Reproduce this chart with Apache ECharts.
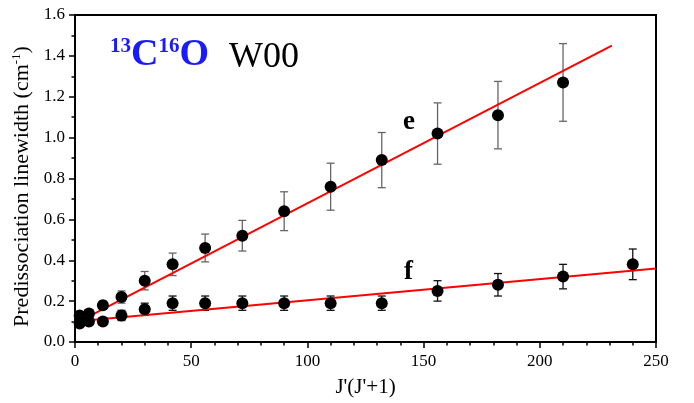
<!DOCTYPE html>
<html>
<head>
<meta charset="utf-8">
<script src="https://cdn.jsdelivr.net/npm/echarts@6/dist/echarts.min.js"></script>
<style>html,body{margin:0;padding:0;background:#fff}#c{width:694px;height:403px}</style>
</head>
<body>
<div id="c"></div>
<script>
var xJ = [2, 6, 12, 20, 30, 42, 56, 72, 90, 110, 132, 156, 182, 210];
var eVal = [0.13, 0.14, 0.18, 0.22, 0.30, 0.38, 0.46, 0.52, 0.64, 0.76, 0.89, 1.02, 1.11, 1.27];
var eErr = [0.01, 0.015, 0.02, 0.03, 0.045, 0.055, 0.068, 0.075, 0.095, 0.115, 0.135, 0.15, 0.165, 0.19];
var xJf = [2, 6, 12, 20, 30, 42, 56, 72, 90, 110, 132, 156, 182, 210, 240];
var fVal = [0.09, 0.10, 0.10, 0.13, 0.16, 0.19, 0.19, 0.19, 0.19, 0.19, 0.19, 0.25, 0.28, 0.32, 0.38];
var fErr = [0.01, 0.012, 0.015, 0.025, 0.03, 0.035, 0.035, 0.035, 0.035, 0.035, 0.035, 0.05, 0.055, 0.06, 0.075];
var fitE = [[0, 0.09], [231, 1.45]];
var fitF = [[0, 0.10], [250, 0.36]];

var FONT = '"Liberation Serif", "Times New Roman", serif';

function pts(xs, ys) { return xs.map(function (x, i) { return [x, ys[i]]; }); }
function errData(xs, ys, es) { return xs.map(function (x, i) { return [x, ys[i] - es[i], ys[i] + es[i]]; }); }

function errRender(color) {
  return function (params, api) {
    var x = api.value(0);
    var lo = api.coord([x, api.value(1)]);
    var hi = api.coord([x, api.value(2)]);
    var w = 4;
    var st = { stroke: color, lineWidth: 1.3, fill: null };
    return {
      type: 'group',
      children: [
        { type: 'line', shape: { x1: lo[0], y1: lo[1], x2: hi[0], y2: hi[1] }, style: st },
        { type: 'line', shape: { x1: lo[0] - w, y1: lo[1], x2: lo[0] + w, y2: lo[1] }, style: st },
        { type: 'line', shape: { x1: hi[0] - w, y1: hi[1], x2: hi[0] + w, y2: hi[1] }, style: st }
      ]
    };
  };
}

var chart = echarts.init(document.getElementById('c'), null, { renderer: 'canvas' });
chart.setOption({
  animation: false,
  backgroundColor: '#fff',
  grid: { left: 75, right: 38, top: 15, bottom: 60, show: true, borderColor: '#000', borderWidth: 2, backgroundColor: 'transparent' },
  xAxis: {
    type: 'value', min: 0, max: 250, interval: 50,
    name: "J'(J'+1)", nameLocation: 'middle', nameGap: 35,
    nameTextStyle: { fontFamily: FONT, fontSize: 21, color: '#000' },
    axisLine: { show: true, onZero: false, lineStyle: { color: '#000', width: 2 } },
    axisTick: { show: true, length: 6, lineStyle: { color: '#000', width: 1.5 } },
    minorTick: { show: true, splitNumber: 5, length: 3.5, lineStyle: { color: '#000', width: 1.5 } },
    axisLabel: { fontFamily: FONT, fontSize: 17, color: '#000', margin: 11 },
    splitLine: { show: false }
  },
  yAxis: {
    type: 'value', min: 0, max: 1.6, interval: 0.2,
    name: '{a|Predissociation linewidth (cm}{s|-1}{a|)}{g| }', nameLocation: 'middle', nameGap: 37,
    nameTextStyle: {
      rich: {
        a: { fontFamily: FONT, fontSize: 22, color: '#000' },
        s: { fontFamily: FONT, fontSize: 13, color: '#000', verticalAlign: 'top', padding: [0, 0, 10, 0] },
        g: { fontFamily: FONT, fontSize: 22, width: 16 }
      }
    },
    axisLine: { show: true, onZero: false, lineStyle: { color: '#000', width: 2 } },
    axisTick: { show: true, length: 6, lineStyle: { color: '#000', width: 1.5 } },
    minorTick: { show: true, splitNumber: 2, length: 3.5, lineStyle: { color: '#000', width: 1.5 } },
    axisLabel: { fontFamily: FONT, fontSize: 17, color: '#000', margin: 10, formatter: function (v) { return v.toFixed(1); } },
    splitLine: { show: false }
  },
  graphic: [
    {
      type: 'text', left: 110, top: 36,
      style: {
        text: '{s|13}{b|C}{s|16}{b|O}',
        rich: {
          b: { fontFamily: FONT, fontSize: 38, fontWeight: 'bold', fill: '#1a1aff' },
          s: { fontFamily: FONT, fontSize: 21, fontWeight: 'bold', fill: '#1a1aff', verticalAlign: 'top' }
        }
      }
    },
    { type: 'text', left: 229, top: 40, style: { text: 'W00', fontFamily: FONT, fontSize: 36, fill: '#000' } },
    { type: 'text', left: 403, top: 109, style: { text: 'e', fontFamily: FONT, fontSize: 27, fontWeight: 'bold', fill: '#000' } },
    { type: 'text', left: 404, top: 259, style: { text: 'f', fontFamily: FONT, fontSize: 27, fontWeight: 'bold', fill: '#000' } }
  ],
  series: [
    { type: 'line', data: fitE, symbol: 'none', lineStyle: { color: '#ff0000', width: 2 }, z: 3 },
    { type: 'line', data: fitF, symbol: 'none', lineStyle: { color: '#ff0000', width: 2 }, z: 3 },
    { type: 'custom', data: errData(xJ, eVal, eErr), renderItem: errRender('#666'), z: 2 },
    { type: 'custom', data: errData(xJf, fVal, fErr), renderItem: errRender('#111'), z: 2 },
    { type: 'scatter', data: pts(xJ, eVal), symbol: 'circle', symbolSize: 12, itemStyle: { color: '#000', opacity: 1 }, z: 4 },
    { type: 'scatter', data: pts(xJf, fVal), symbol: 'circle', symbolSize: 12, itemStyle: { color: '#000', opacity: 1 }, z: 4 }
  ]
});
</script>
</body>
</html>
